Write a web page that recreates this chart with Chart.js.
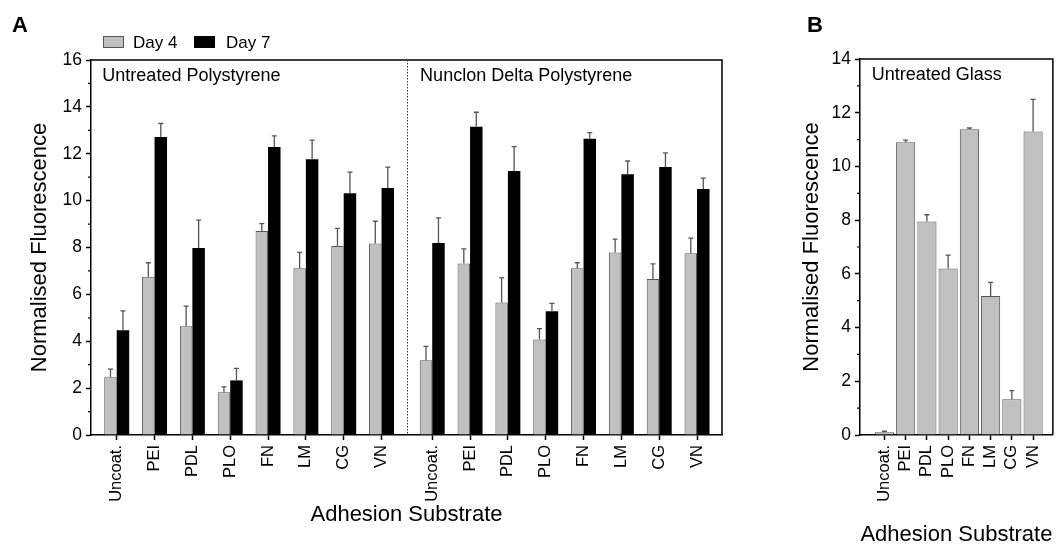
<!DOCTYPE html>
<html>
<head>
<meta charset="utf-8">
<script src="https://cdn.jsdelivr.net/npm/chart.js@4.4.1/dist/chart.umd.min.js"></script>
<style>
  body { margin: 0; background: #fff; font-family: "Liberation Sans", Arial, sans-serif; }
  #wrap { position: relative; width: 1058px; height: 547px; overflow: hidden; }
  canvas { position: absolute; top: 0; }
  .panel { position: absolute; font-weight: bold; font-size: 22px; line-height: 22px; color: #000; }
  .lg { position: absolute; font-size: 17px; line-height: 17px; color: #000; }
  .sw { position: absolute; width: 21px; height: 12px; box-sizing: border-box; border: 1px solid #555; }
</style>
</head>
<body>
<div id="wrap">
  <canvas id="chartA" width="740" height="547" style="left:0"></canvas>
  <canvas id="chartB" width="270" height="547" style="left:788px"></canvas>
  <div class="panel" style="left:12px;top:14px">A</div>
  <div class="panel" style="left:807px;top:14px">B</div>
  <div class="sw" style="left:103px;top:36px;background:#c0c0c0"></div>
  <div class="lg" style="left:133px;top:34px">Day 4</div>
  <div class="sw" style="left:194px;top:36px;background:#000;border-color:#000"></div>
  <div class="lg" style="left:226px;top:34px">Day 7</div>
</div>
<script>
// substrates, same order in every group
const substrates = ['Uncoat.', 'PEI', 'PDL', 'PLO', 'FN', 'LM', 'CG', 'VN'];

// panel A - untreated polystyrene
const untreatedDay4 = [2.46, 6.75, 4.64, 1.82, 8.70, 7.12, 8.06, 8.17];
const untreatedDay4Err = [0.35, 0.60, 0.86, 0.23, 0.32, 0.67, 0.76, 0.95];
const untreatedDay7 = [4.47, 12.71, 7.98, 2.33, 12.29, 11.77, 10.32, 10.54];
const untreatedDay7Err = [0.83, 0.58, 1.19, 0.51, 0.47, 0.81, 0.90, 0.89];

// panel A - nunclon delta polystyrene
const nunclonDay4 = [3.19, 7.32, 5.65, 4.08, 7.12, 7.79, 6.66, 7.75];
const nunclonDay4Err = [0.59, 0.62, 1.05, 0.46, 0.23, 0.57, 0.64, 0.65];
const nunclonDay7 = [8.19, 13.15, 11.26, 5.28, 12.64, 11.13, 11.43, 10.50];
const nunclonDay7Err = [1.07, 0.62, 1.04, 0.34, 0.26, 0.56, 0.61, 0.46];

// panel B - untreated glass
const glass = [0.10, 10.90, 7.95, 6.20, 11.38, 5.18, 1.33, 11.30];
const glassErr = [0.04, 0.08, 0.25, 0.50, 0.05, 0.50, 0.32, 1.20];

// x layout of panel A: second group shifted right, divider in the gap
const groupShift = 8.34;
const dividerAt = 7.68;
const xA = substrates.map((_, i) => i).concat(substrates.map((_, i) => i + groupShift));
const labelsA = substrates.concat(substrates);
const xB = substrates.map((_, i) => i);

const toPoints = (xs, ys) => ys.map((y, i) => ({ x: xs[i], y: y }));

const FONT = '"Liberation Sans", Arial, sans-serif';
Chart.defaults.font.family = FONT;
Chart.defaults.color = '#000';

const errorBars = {
  id: 'errorBars',
  afterDatasetsDraw(chart) {
    const ctx = chart.ctx;
    const yScale = chart.scales.y;
    chart.data.datasets.forEach((ds, di) => {
      const meta = chart.getDatasetMeta(di);
      meta.data.forEach((bar, i) => {
        const top = yScale.getPixelForValue(ds.data[i].y + ds.errors[i]);
        ctx.save();
        ctx.strokeStyle = '#555';
        ctx.lineWidth = 1.3;
        ctx.beginPath();
        ctx.moveTo(bar.x, bar.y);
        ctx.lineTo(bar.x, top);
        ctx.moveTo(bar.x - 2.5, top);
        ctx.lineTo(bar.x + 2.5, top);
        ctx.stroke();
        ctx.restore();
      });
    });
  }
};

// top/right frame, minor y ticks, divider and in-plot captions
const frame = {
  id: 'frame',
  afterDraw(chart, args, opts) {
    const ctx = chart.ctx;
    const a = chart.chartArea;
    const y = chart.scales.y;
    const x = chart.scales.x;
    ctx.save();
    ctx.strokeStyle = '#000';
    ctx.lineWidth = 1.5;
    ctx.beginPath();
    ctx.moveTo(a.left, a.top);
    ctx.lineTo(a.right, a.top);
    ctx.lineTo(a.right, a.bottom);
    ctx.stroke();

    ctx.lineWidth = 1.2;
    ctx.beginPath();
    for (let v = y.min + 1; v < y.max; v += 2) {
      const py = y.getPixelForValue(v);
      ctx.moveTo(a.left - 3, py);
      ctx.lineTo(a.left, py);
    }
    ctx.stroke();

    if (opts.divider !== undefined) {
      const px = Math.round(x.getPixelForValue(opts.divider)) + 0.5;
      ctx.strokeStyle = '#333';
      ctx.lineWidth = 1;
      ctx.setLineDash([1.5, 1.5]);
      ctx.beginPath();
      ctx.moveTo(px, a.top);
      ctx.lineTo(px, a.bottom);
      ctx.stroke();
      ctx.setLineDash([]);
    }

    ctx.fillStyle = '#000';
    ctx.font = '18px ' + FONT;
    ctx.textBaseline = 'middle';
    (opts.captions || []).forEach(c => {
      ctx.fillText(c.text, x.getPixelForValue(c.at), a.top + 16);
    });
    ctx.restore();
  }
};

function yAxis(max, width) {
  return {
    min: 0,
    max: max,
    afterFit: s => { s.width = width; },
    ticks: {
      stepSize: 1, autoSkip: false, padding: 4, color: '#000',
      font: { size: 17.5 },
      callback: v => (v % 2 === 0 ? v : '')
    },
    grid: {
      drawOnChartArea: false, tickLength: 5, tickWidth: 1.5,
      tickColor: c => (c.tick && c.tick.value % 2 ? 'rgba(0,0,0,0)' : '#000')
    },
    border: { color: '#000', width: 1.5 },
    title: {
      display: true, text: 'Normalised Fluorescence', color: '#000',
      font: { size: 22 }, padding: 0
    }
  };
}

function xAxis(min, max, positions, labels, height, titleLineHeight) {
  return {
    type: 'linear',
    min: min,
    max: max,
    offset: false,
    afterBuildTicks: s => { s.ticks = positions.map(v => ({ value: v })); },
    afterFit: s => { s.height = height; },
    ticks: {
      autoSkip: false, minRotation: 90, maxRotation: 90, padding: 5, color: '#000',
      font: { size: 16.5 },
      callback: (v, i) => labels[i]
    },
    grid: { offset: false, drawOnChartArea: false, tickLength: 5, tickWidth: 1.5, tickColor: '#000' },
    border: { color: '#000', width: 1.5 },
    title: {
      display: true, text: 'Adhesion Substrate', color: '#000',
      font: { size: 22, lineHeight: titleLineHeight }, padding: 0
    }
  };
}

new Chart(document.getElementById('chartA'), {
  type: 'bar',
  data: {
    datasets: [
      {
        label: 'Day 4',
        data: toPoints(xA, untreatedDay4.concat(nunclonDay4)),
        errors: untreatedDay4Err.concat(nunclonDay4Err),
        backgroundColor: '#c0c0c0',
        borderColor: '#555',
        borderWidth: 1,
        categoryPercentage: 0.66,
        barPercentage: 1
      },
      {
        label: 'Day 7',
        data: toPoints(xA, untreatedDay7.concat(nunclonDay7)),
        errors: untreatedDay7Err.concat(nunclonDay7Err),
        backgroundColor: '#000',
        borderWidth: 0,
        categoryPercentage: 0.66,
        barPercentage: 1
      }
    ]
  },
  options: {
    responsive: false,
    animation: false,
    layout: { padding: { left: 26.8, top: 60, right: 18, bottom: 18.8 } },
    plugins: {
      legend: { display: false },
      tooltip: { enabled: false },
      frame: {
        divider: dividerAt,
        captions: [
          { text: 'Untreated Polystyrene', at: -0.38 },
          { text: 'Nunclon Delta Polystyrene', at: 8.02 }
        ]
      }
    },
    scales: {
      x: xAxis(-0.68, 16.0, xA, labelsA, 93.2, 1.2),
      y: yAxis(16, 64.2)
    }
  },
  plugins: [errorBars, frame]
});

new Chart(document.getElementById('chartB'), {
  type: 'bar',
  data: {
    datasets: [
      {
        label: 'Untreated Glass',
        data: toPoints(xB, glass),
        errors: glassErr,
        backgroundColor: '#c0c0c0',
        borderColor: '#555',
        borderWidth: 1,
        categoryPercentage: 0.9,
        barPercentage: 1
      }
    ]
  },
  options: {
    responsive: false,
    animation: false,
    layout: { padding: { left: 10.8, top: 59, right: 1, bottom: 1 } },
    plugins: {
      legend: { display: false },
      tooltip: { enabled: false },
      frame: {
        captions: [{ text: 'Untreated Glass', at: -0.6 }]
      }
    },
    scales: {
      x: xAxis(-1.15, 7.93, xB, substrates, 111, 1),
      y: yAxis(14, 61.2)
    }
  },
  plugins: [errorBars, frame]
});
</script>
</body>
</html>
